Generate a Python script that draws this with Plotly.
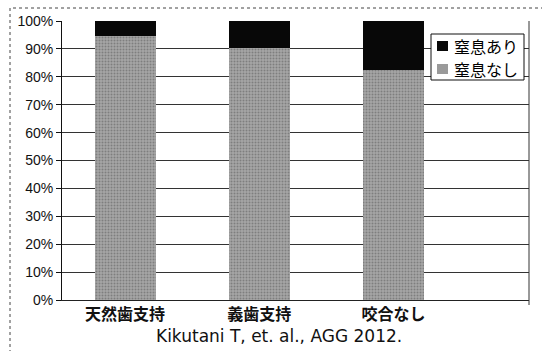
import plotly.graph_objects as go

# Choking incidence by occlusal support group
categories = ["天然歯支持", "義歯支持", "咬合なし"]
no_choking = [0.947, 0.903, 0.824]   # 窒息なし
choking = [0.053, 0.097, 0.176]      # 窒息あり
y_ticks = [0, 0.1, 0.2, 0.3, 0.4, 0.5, 0.6, 0.7, 0.8, 0.9, 1.0]
legend_names = ["窒息あり", "窒息なし"]
legend_colors = ["#080808", "#9a9a9a"]
caption = "Kikutani T, et. al., AGG 2012."

W, H = 542, 351
L, R, T, B = 62, 13, 21, 51
pw, ph = W - L - R, H - T - B


def px_x(p):
    return (p - L) / pw


def px_y(p):
    return (H - B - p) / ph


fig = go.Figure()
fig.add_trace(go.Bar(
    x=categories, y=no_choking, name=legend_names[1],
    width=0.455,
    marker=dict(color="#9c9c9c", line=dict(width=0),
                pattern=dict(shape=".", fgcolor="#555555", bgcolor="#a6a6a6",
                             size=3, solidity=0.35)),
))
fig.add_trace(go.Bar(
    x=categories, y=choking, name=legend_names[0],
    width=0.455,
    marker=dict(color=legend_colors[0], line=dict(width=0)),
))

# outer dotted frame of the chart area
fig.add_shape(type="rect", xref="paper", yref="paper",
              x0=px_x(10), x1=px_x(548), y0=px_y(360), y1=px_y(8),
              line=dict(color="#444", width=1, dash="dot"), layer="below")
# right edge of the plot area, running slightly below the baseline
fig.add_shape(type="line", xref="paper", yref="paper",
              x0=1, x1=1, y0=px_y(305), y1=1,
              line=dict(color="#333", width=1))

# legend box drawn inside the plot area
fig.add_shape(type="rect", xref="paper", yref="paper",
              x0=px_x(431), x1=px_x(524), y0=px_y(80), y1=px_y(34),
              line=dict(color="#111", width=1), fillcolor="white")
for i, (name, col) in enumerate(zip(legend_names, legend_colors)):
    cy = 46 + 23 * i
    fig.add_shape(type="rect", xref="paper", yref="paper",
                  x0=px_x(437), x1=px_x(448), y0=px_y(cy + 5), y1=px_y(cy - 5),
                  line=dict(width=0), fillcolor=col)
    fig.add_annotation(text=name, xref="paper", yref="paper",
                       x=px_x(452), y=px_y(cy), xanchor="left", yanchor="middle",
                       showarrow=False,
                       font=dict(family="Noto Sans CJK JP", size=16, color="#000"))

fig.add_annotation(text=caption, xref="paper", yref="paper",
                   x=px_x(279), y=px_y(336), xanchor="center", yanchor="middle",
                   showarrow=False,
                   font=dict(family="DejaVu Sans", size=17, color="#111"))

fig.update_layout(
    width=W, height=H,
    margin=dict(l=L, r=R, t=T, b=B),
    barmode="stack",
    paper_bgcolor="white", plot_bgcolor="white",
    showlegend=False,
    xaxis=dict(
        type="category", range=[-0.47, 3.01],
        showline=True, linecolor="#222", linewidth=1,
        showgrid=False, ticks="",
        tickfont=dict(family="Noto Sans CJK JP", size=16, color="#111", weight="bold"),
    ),
    yaxis=dict(
        range=[0, 1], tickvals=y_ticks, tickformat=".0%",
        showline=True, linecolor="#111", linewidth=1,
        ticks="outside", ticklen=5, tickcolor="#111",
        showgrid=True, gridcolor="#333", gridwidth=1,
        zeroline=False,
        tickfont=dict(family="Liberation Sans, Arial", size=14, color="#111"),
    ),
)

fig.write_html("out.html")
